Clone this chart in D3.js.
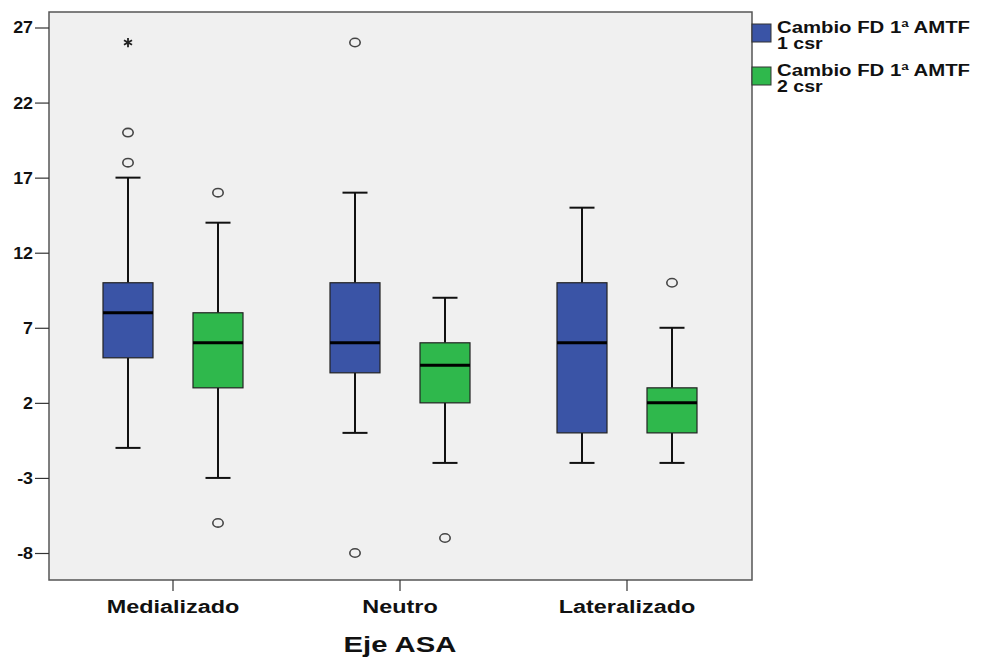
<!DOCTYPE html>
<html><head><meta charset="utf-8">
<script src="https://cdn.jsdelivr.net/npm/d3@7"></script>
<style>body{margin:0;background:#fff}svg{display:block}text{font-family:"Liberation Sans",Arial,sans-serif;font-weight:bold;fill:#111}</style>
</head><body><svg id="c" width="982" height="657"></svg>
<script>
const categories = ["Medializado","Neutro","Lateralizado"];
const seriesNames = ["Cambio FD 1ª AMTF|1 csr","Cambio FD 1ª AMTF|2 csr"];
const seriesColors = ["#3a54a6","#2fb84c"];
// [lowWhisker, Q1, median, Q3, highWhisker]
const stats1 = [[-1,5,8,10,17],[0,4,6,10,16],[-2,0,6,10,15]];
const stats2 = [[-3,3,6,8,14],[-2,2,4.5,6,9],[-2,0,2,3,7]];
const outliers1 = [[18,20],[26,-8],[]];
const outliers2 = [[16,-6],[-7],[10]];
const extremes1 = [[26],[],[]];
const extremes2 = [[],[],[]];
const yTicks = [27,22,17,12,7,2,-3,-8];

const svg = d3.select("#c");
const L=49,T=12,R=752,B=580;
const y = d3.scaleLinear().domain([-8,27]).range([553,27.5]);
const x = d3.scaleBand().domain(categories).range([59.5,740.5]).padding(0);
const off = [-45,45], bw = 50;

function stretch(sel, f){
  sel.each(function(){
    const w = this.getComputedTextLength();
    d3.select(this).attr("textLength", w*f).attr("lengthAdjust","spacingAndGlyphs");
  });
}

svg.append("rect").attr("x",L).attr("y",T).attr("width",R-L).attr("height",B-T)
  .attr("fill","#f0f0f0").attr("stroke","#555").attr("stroke-width",1.5);

// y axis
const ya = svg.append("g").attr("transform",`translate(${L},0)`)
  .call(d3.axisLeft(y).tickValues(yTicks).tickSize(14).tickPadding(2).tickFormat(d=>String(d)));
ya.select(".domain").remove();
ya.selectAll("line").attr("stroke","#333").attr("stroke-width",1.2);
ya.selectAll("text").attr("font-size",17).attr("font-family","Liberation Sans, Arial").attr("font-weight","bold").attr("fill","#111");
stretch(ya.selectAll("text"),1.05);

// x axis
const xa = svg.append("g").attr("transform",`translate(0,${B})`)
  .call(d3.axisBottom(x).tickSize(11).tickPadding(9));
xa.select(".domain").remove();
xa.selectAll("line").attr("stroke","#333").attr("stroke-width",1.2);
xa.selectAll("text").attr("font-size",18).attr("font-family","Liberation Sans, Arial").attr("font-weight","bold").attr("fill","#111");
stretch(xa.selectAll("text"),1.3);

const tt = svg.append("text").attr("x",x("Neutro")+x.bandwidth()/2).attr("y",652).attr("text-anchor","middle")
  .attr("font-size",22).text("Eje ASA");
stretch(tt,1.33);

const allStats=[stats1,stats2], allOut=[outliers1,outliers2], allExt=[extremes1,extremes2];
allStats.forEach((st,si)=>{
  categories.forEach((c,ci)=>{
    const s = st[ci];
    const cx = x(c)+x.bandwidth()/2+off[si];
    const g = svg.append("g");
    g.append("line").attr("x1",cx).attr("x2",cx).attr("y1",y(s[4])).attr("y2",y(s[3])).attr("stroke","#111").attr("stroke-width",2);
    g.append("line").attr("x1",cx).attr("x2",cx).attr("y1",y(s[1])).attr("y2",y(s[0])).attr("stroke","#111").attr("stroke-width",2);
    [s[0],s[4]].forEach(v=>g.append("line").attr("x1",cx-12.5).attr("x2",cx+12.5).attr("y1",y(v)).attr("y2",y(v)).attr("stroke","#111").attr("stroke-width",2));
    g.append("rect").attr("x",cx-bw/2).attr("y",y(s[3])).attr("width",bw).attr("height",y(s[1])-y(s[3]))
      .attr("fill",seriesColors[si]).attr("stroke","#222").attr("stroke-width",1.2);
    g.append("line").attr("x1",cx-bw/2).attr("x2",cx+bw/2).attr("y1",y(s[2])).attr("y2",y(s[2])).attr("stroke","#000").attr("stroke-width",3);
    allOut[si][ci].forEach(v=>g.append("ellipse").attr("cx",cx).attr("cy",y(v)).attr("rx",5.2).attr("ry",4.2).attr("fill","none").attr("stroke","#444").attr("stroke-width",1.6));
    allExt[si][ci].forEach(v=>g.append("path").attr("d",d3.symbol(d3.symbolAsterisk,60)()).attr("transform",`translate(${cx},${y(v)})`).attr("stroke","#222").attr("stroke-width",1.8).attr("fill","none"));
  });
});

// legend
seriesNames.forEach((n,i)=>{
  const ly = 24 + i*43;
  svg.append("rect").attr("x",752).attr("y",ly).attr("width",19).attr("height",18).attr("fill",seriesColors[i]).attr("stroke","#333").attr("stroke-width",1);
  const parts=n.split("|");
  const t1 = svg.append("text").attr("x",777).attr("y",ly+9).attr("font-size",16).text(parts[0]);
  const t2 = svg.append("text").attr("x",777).attr("y",ly+25).attr("font-size",16).text(parts[1]);
  stretch(t1,1.27); stretch(t2,1.22);
});
</script></body></html>
